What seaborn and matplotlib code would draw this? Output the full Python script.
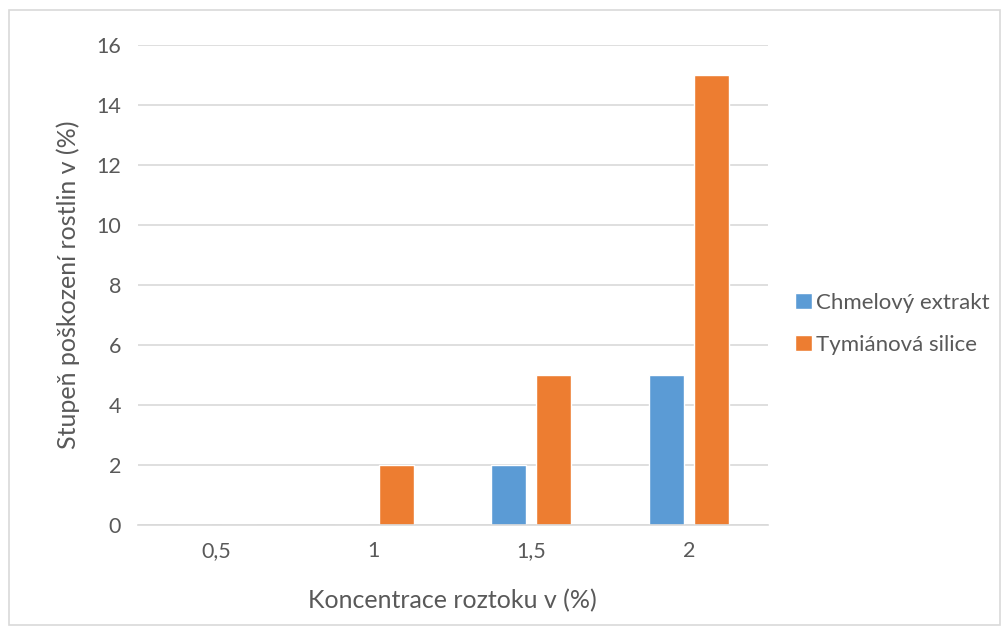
import pandas as pd
import seaborn as sns
import matplotlib.pyplot as plt
from matplotlib.patches import Rectangle

# Data
koncentrace = ['0,5', '1', '1,5', '2']
chmelovy = [0, 0, 2, 5]
tymianova = [0, 2, 5, 15]
serie = ['Chmelový extrakt', 'Tymiánová silice']
barvy = ['#5B9BD5', '#ED7D31']

df = pd.DataFrame({
    'Koncentrace': koncentrace * 2,
    'Hodnota': chmelovy + tymianova,
    'Serie': [serie[0]] * 4 + [serie[1]] * 4,
})

sns.set_theme(style="white")
plt.rcParams['font.family'] = ['Lato', 'DejaVu Sans']
text_color = '#595959'

fig = plt.figure(figsize=(10.06, 6.33), dpi=100)
ax = fig.add_axes([0.137, 0.171, 0.626, 0.758])

sns.barplot(data=df, x='Koncentrace', y='Hodnota', hue='Serie', order=koncentrace,
            hue_order=serie, palette=barvy, width=0.571, gap=0.22, ax=ax,
            saturation=1, errorbar=None)

ax.set_ylim(0, 16)
ax.set_yticks(range(0, 17, 2))
ax.set_xlim(-0.5, 3.5)
ax.grid(axis='y', color='#d9d9d9', linewidth=1.2)
ax.set_axisbelow(True)
for s in ['top', 'right', 'left']:
    ax.spines[s].set_visible(False)
ax.spines['bottom'].set_color('#d9d9d9')
ax.spines['bottom'].set_linewidth(1.2)
ax.tick_params(axis='both', length=0, labelsize=15.5, colors=text_color, pad=12)

ax.set_xlabel('Koncentrace roztoku v (%)', fontsize=18, color=text_color, labelpad=20)
ax.set_ylabel('Stupeň poškození rostlin v (%)', fontsize=18, color=text_color, labelpad=12)

ax.legend(loc='center left', bbox_to_anchor=(1.012, 0.419), frameon=False, fontsize=16,
          labelcolor=text_color, handlelength=0.75, handleheight=0.75,
          handletextpad=0.2, labelspacing=1.0)

fig.patches.append(Rectangle((0.009, 0.013), 0.985, 0.971, transform=fig.transFigure,
                             fill=False, edgecolor='#d9d9d9', linewidth=1.2))

plt.savefig('out.png', dpi=100)
